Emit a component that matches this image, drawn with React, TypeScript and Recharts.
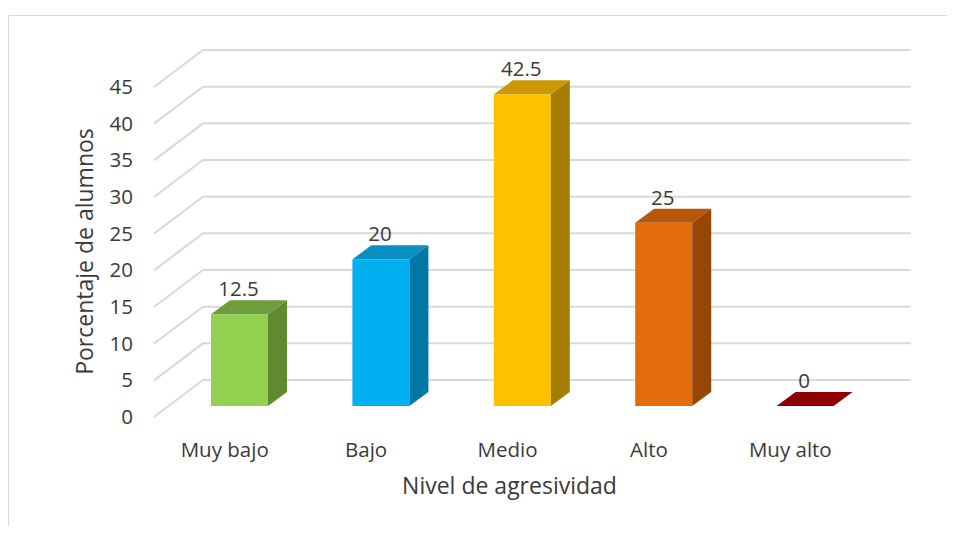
import React from "react";
import { BarChart, Bar, XAxis, YAxis, CartesianGrid } from "recharts";

const categories = ["Muy bajo", "Bajo", "Medio", "Alto", "Muy alto"];
const values = [12.5, 20, 42.5, 25, 0];
const yTicks = [0, 5, 10, 15, 20, 25, 30, 35, 40, 45];

const frontColors = ["#92D050", "#00B0F0", "#FFC000", "#E46C0A", "#C00000"];
const topColors = ["#6E9E3C", "#0A8FC2", "#CC9A00", "#B8560A", "#8E0000"];
const sideColors = ["#5F8A30", "#0077A6", "#A67D00", "#984608", "#700000"];

const data = categories.map((name, i) => ({ name, value: values[i] }));

const FONT = "'Open Sans', sans-serif";
const TEXT = "#3a3a3a";

// geometry of the pseudo 3D projection
const WALL_DX = 49;
const WALL_DY = 37;
const BAR_OFF_X = 15;
const BAR_OFF_Y = 11;
const DEPTH_X = 19;
const DEPTH_Y = 14;
const GRID_RIGHT = 902.7;

const GridLine = (props: any) => {
  const { x1, y1 } = props;
  const d = `M${x1},${y1} L${x1 + WALL_DX},${y1 - WALL_DY} L${GRID_RIGHT},${y1 - WALL_DY}`;
  return <path d={d} fill="none" stroke="#d9d9d9" strokeWidth={2} />;
};

const Bar3D = (props: any) => {
  const { x, y, width, height, index, value } = props;
  const X = x + BAR_OFF_X;
  const Y = y - BAR_OFF_Y;
  const w = width;
  const h = height || 0;
  const top = `${X},${Y} ${X + DEPTH_X},${Y - DEPTH_Y} ${X + w + DEPTH_X},${Y - DEPTH_Y} ${X + w},${Y}`;
  const side = `${X + w},${Y} ${X + w + DEPTH_X},${Y - DEPTH_Y} ${X + w + DEPTH_X},${Y + h - DEPTH_Y} ${X + w},${Y + h}`;
  return (
    <g>
      {h > 0 && <rect x={X} y={Y} width={w} height={h} fill={frontColors[index]} />}
      {h > 0 && <polygon points={side} fill={sideColors[index]} />}
      <polygon points={top} fill={topColors[index]} />
      <text
        x={X + w / 2 - 1}
        y={Y - 18}
        textAnchor="middle"
        fontFamily={FONT}
        fontSize={20.5}
        fill={TEXT}
      >
        {value}
      </text>
    </g>
  );
};

const YTick = (props: any) => {
  const { y, payload } = props;
  return (
    <text x={125} y={y + 7} textAnchor="end" fontFamily={FONT} fontSize={20.5} fill={TEXT}>
      {payload.value}
    </text>
  );
};

const XTick = (props: any) => {
  const { x, payload } = props;
  return (
    <text x={x} y={449} textAnchor="middle" fontFamily={FONT} fontSize={20.5} fill={TEXT}>
      {payload.value}
    </text>
  );
};

export default function App() {
  return (
    <div style={{ position: "relative", width: 939, height: 518 }}>
      <svg
        width={939}
        height={518}
        style={{ position: "absolute", left: 0, top: 0, overflow: "visible" }}
      >
        <path d="M0.5,518 L0.5,7.5 L947,7.5" fill="none" stroke="#d9d9d9" strokeWidth={1} />
      </svg>
      <div style={{ position: "absolute", left: 0, top: 0 }}>
        <BarChart
          width={939}
          height={518}
          data={data}
          margin={{ top: 79, right: 86, bottom: 69, left: 86 }}
          style={{ outline: "none" }}
        >
          <CartesianGrid vertical={false} horizontal={(p: any) => <GridLine key={p.key ?? p.index} {...p} />} />
          <XAxis
            dataKey="name"
            axisLine={false}
            tickLine={false}
            height={40}
            interval={0}
            tick={<XTick />}
          />
          <YAxis
            type="number"
            domain={[0, 45]}
            ticks={yTicks}
            interval={0}
            axisLine={false}
            tickLine={false}
            width={60}
            tick={<YTick />}
          />
          <Bar dataKey="value" barSize={57} isAnimationActive={false} shape={<Bar3D />} />
        </BarChart>
      </div>
      <svg
        width={939}
        height={518}
        style={{ position: "absolute", left: 0, top: 0, pointerEvents: "none" }}
      >
        <text
          x={501.5}
          y={486}
          textAnchor="middle"
          fontFamily={FONT}
          fontSize={23}
          fill={TEXT}
        >
          Nivel de agresividad
        </text>
        <text
          x={84.5}
          y={243.5}
          textAnchor="middle"
          fontFamily={FONT}
          fontSize={23}
          fill={TEXT}
          transform="rotate(-90 84.5 243.5)"
        >
          Porcentaje de alumnos
        </text>
      </svg>
    </div>
  );
}
